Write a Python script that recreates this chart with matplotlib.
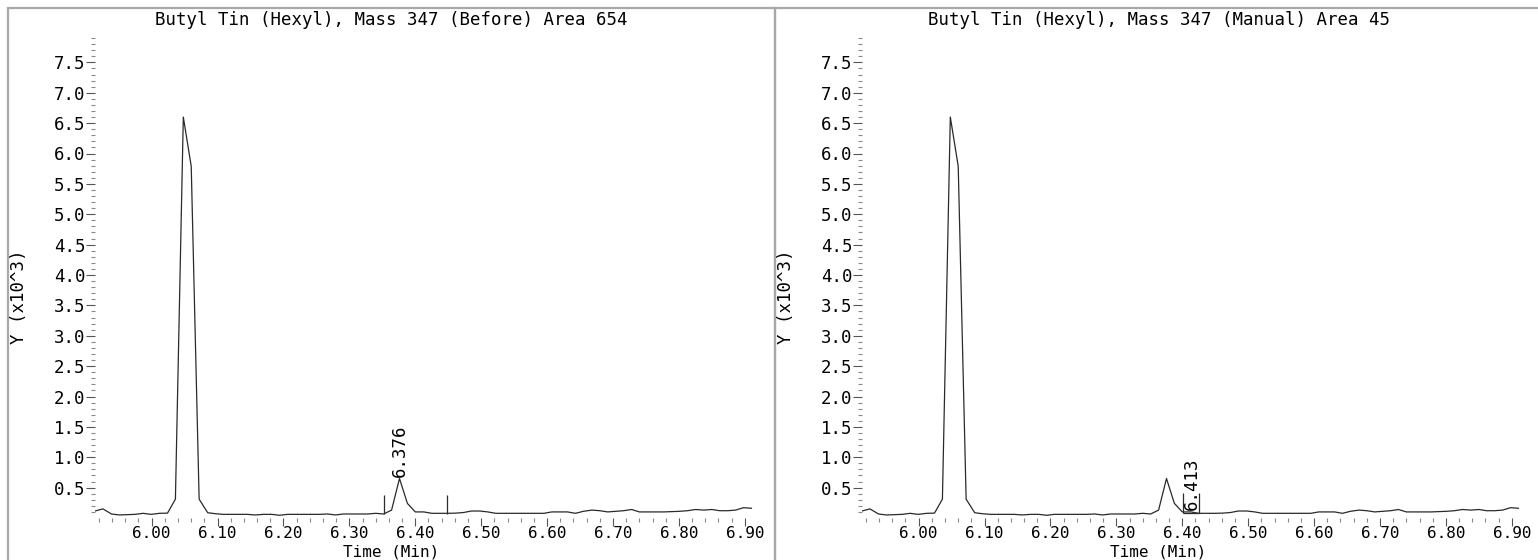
import numpy as np
import matplotlib
matplotlib.use("Agg")
import matplotlib.pyplot as plt
from matplotlib.patches import Rectangle
from matplotlib.ticker import FixedLocator

# ---- data -------------------------------------------------------------
time_min = [5.914, 5.926, 5.939, 5.951, 5.963, 5.975, 5.987, 5.999, 6.012, 6.024,
            6.036, 6.048, 6.060, 6.072, 6.085, 6.097, 6.109, 6.121, 6.133, 6.145,
            6.157, 6.170, 6.182, 6.194, 6.206, 6.218, 6.230, 6.242, 6.255, 6.267,
            6.279, 6.291, 6.303, 6.315, 6.328, 6.340, 6.352, 6.364, 6.376, 6.388,
            6.400, 6.413, 6.425, 6.437, 6.449, 6.461, 6.473, 6.485, 6.498, 6.510,
            6.522, 6.534, 6.546, 6.558, 6.571, 6.583, 6.595, 6.607, 6.619, 6.631,
            6.643, 6.655, 6.668, 6.680, 6.692, 6.704, 6.716, 6.728, 6.740, 6.753,
            6.765, 6.777, 6.789, 6.801, 6.813, 6.825, 6.838, 6.850, 6.862, 6.874,
            6.886, 6.898, 6.910]
intensity_k = [0.115, 0.150, 0.066, 0.050, 0.055, 0.060, 0.077, 0.060, 0.077, 0.080,
               0.310, 6.600, 5.790, 0.310, 0.087, 0.070, 0.060, 0.060, 0.060, 0.060,
               0.050, 0.060, 0.060, 0.045, 0.060, 0.060, 0.060, 0.060, 0.060, 0.066,
               0.050, 0.066, 0.066, 0.066, 0.066, 0.077, 0.066, 0.130, 0.650, 0.240,
               0.100, 0.100, 0.077, 0.077, 0.077, 0.080, 0.090, 0.115, 0.115, 0.100,
               0.077, 0.077, 0.077, 0.077, 0.077, 0.077, 0.077, 0.100, 0.100, 0.100,
               0.077, 0.110, 0.130, 0.120, 0.100, 0.110, 0.120, 0.140, 0.100, 0.100,
               0.100, 0.100, 0.105, 0.110, 0.120, 0.140, 0.130, 0.140, 0.120, 0.120,
               0.130, 0.170, 0.160]

titles = ["Butyl Tin (Hexyl), Mass 347 (Before) Area 654",
          "Butyl Tin (Hexyl), Mass 347 (Manual) Area 45"]
peak_labels = ["6.376", "6.413"]
x_tick_values = [6.00, 6.10, 6.20, 6.30, 6.40, 6.50, 6.60, 6.70, 6.80, 6.90]
x_tick_labels = ["6.00", "6.10", "6.20", "6.30", "6.40", "6.50", "6.60", "6.70", "6.80", "6.90"]
y_tick_values = [0.5, 1.0, 1.5, 2.0, 2.5, 3.0, 3.5, 4.0, 4.5, 5.0, 5.5, 6.0, 6.5, 7.0, 7.5]
y_tick_labels = ["0.5", "1.0", "1.5", "2.0", "2.5", "3.0", "3.5", "4.0", "4.5", "5.0",
                 "5.5", "6.0", "6.5", "7.0", "7.5"]
# left panel integration marks (start, end) and right panel manual baseline
before_marks = [6.352, 6.448]
before_mark_y = [0.066, 0.38]
manual_marks = [6.401, 6.425]
manual_mark_y = [0.08, 0.41]

# ---- figure -----------------------------------------------------------
W, H = 1538, 560
fig = plt.figure(figsize=(W / 100, H / 100), dpi=100)
fig.patch.set_facecolor("white")
FONT = "DejaVu Sans Mono"
FS = 12.5
plt.rcParams["font.family"] = FONT

LINE_C = "#2a2a2a"
TICK_C = "#555555"
BORDER_C = "#a8a8a8"

PANEL_W = 767
for p in range(2):
    off = p * PANEL_W
    # panel border
    fig.add_artist(Rectangle(((8 + off) / W, -0.05), PANEL_W / W, (H - 8) / H + 0.05,
                             transform=fig.transFigure, fill=False,
                             edgecolor=BORDER_C, lw=1.6))
    ax_left, ax_right, ax_top, ax_bot = 95 + off, 760 + off, 32, 518
    ax = fig.add_axes([ax_left / W, 1 - ax_bot / H, (ax_right - ax_left) / W,
                       (ax_bot - ax_top) / H])
    ax.set_facecolor("none")
    ax.set_xlim(5.914, 6.923)
    ax.set_ylim(0, 8.0)
    for s in ax.spines.values():
        s.set_visible(False)

    ax.plot(time_min, intensity_k, color=LINE_C, lw=0.9)

    ax.xaxis.set_major_locator(FixedLocator(x_tick_values))
    ax.set_xticklabels(x_tick_labels)
    ax.xaxis.set_minor_locator(FixedLocator(np.arange(5.92, 6.905, 0.02)))
    ax.yaxis.set_major_locator(FixedLocator(y_tick_values))
    ax.set_yticklabels(y_tick_labels)
    ax.yaxis.set_minor_locator(FixedLocator(np.arange(0.1, 7.95, 0.1)))
    ax.tick_params(axis="both", which="major", direction="out", length=6.5,
                   width=0.8, color=TICK_C, labelsize=FS, labelcolor="black")
    ax.tick_params(axis="both", which="minor", direction="out", length=3,
                   width=0.8, color="#888888")
    ax.tick_params(axis="x", which="major", pad=0.5, length=5.5, labelsize=11.5)
    ax.tick_params(axis="y", which="major", pad=0.5)
    for lab in ax.get_xticklabels() + ax.get_yticklabels():
        lab.set_fontfamily(FONT)

    # titles / axis labels in figure pixel coords
    cx = (8 + off + 8 + off + PANEL_W) / 2
    fig.text(cx / W, 1 - 20 / H, titles[p], ha="center", va="center",
             fontsize=FS, family=FONT)
    fig.text(cx / W, 0.5 / H, "Time (Min)", ha="center", va="bottom",
             fontsize=11.5, family=FONT)
    fig.text((19 + off) / W, 1 - 297 / H, "Y (x10^3)", ha="center", va="center",
             rotation=90, fontsize=FS, family=FONT)

    if p == 0:
        ax.vlines(before_marks, before_mark_y[0], before_mark_y[1],
                  color=LINE_C, lw=0.9)
        ax.text(6.376, 0.68, peak_labels[0], rotation=90, ha="center",
                va="bottom", fontsize=FS, family=FONT)
    else:
        ax.vlines(manual_marks, manual_mark_y[0], manual_mark_y[1],
                  color=LINE_C, lw=0.9)
        ax.hlines(manual_mark_y[0], manual_marks[0], manual_marks[1],
                  color=LINE_C, lw=0.9)
        ax.text(6.415, 0.13, peak_labels[1], rotation=90, ha="center",
                va="bottom", fontsize=FS, family=FONT)

fig.savefig("out.png", dpi=100, facecolor="white")
